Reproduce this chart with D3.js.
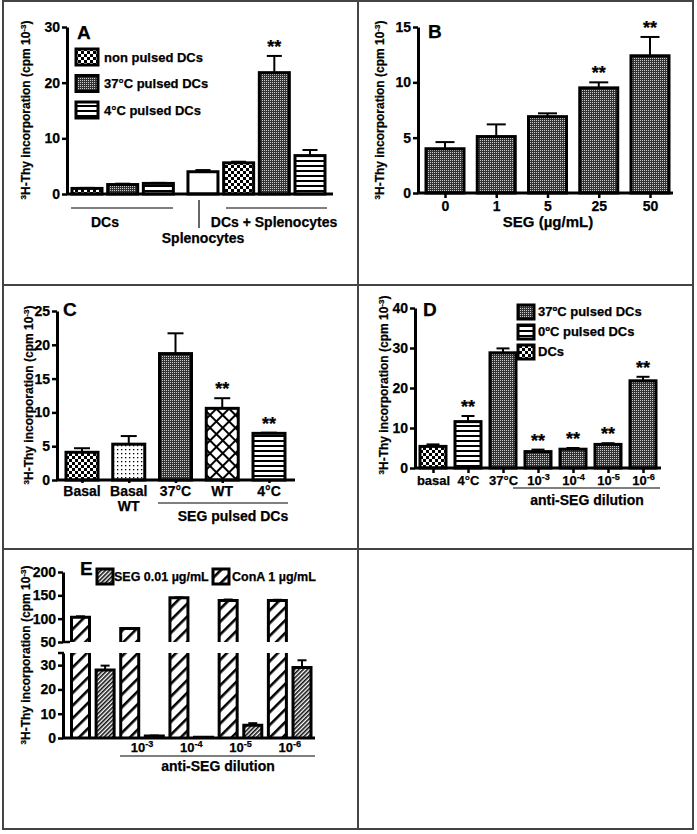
<!DOCTYPE html>
<html><head><meta charset="utf-8">
<script src="https://cdn.jsdelivr.net/npm/d3@7"></script>
<style>body{margin:0;background:#fff}svg{display:block;font-family:"Liberation Sans",Arial,sans-serif;font-weight:bold}
svg text{stroke:#000;stroke-width:0.25px}</style>
</head><body><svg id="c" width="697" height="834"></svg>
<script>
// ---------- DATA ----------
// Panel A
const aCategories = ["non pulsed DCs","37°C pulsed DCs","4°C pulsed DCs","Splenocytes","non pulsed DCs","37°C pulsed DCs","4°C pulsed DCs"];
const aValues = [1.0, 1.7, 1.9, 4.0, 5.6, 21.8, 6.9];
const aErrors = [0.1, 0.15, 0.1, 0.3, 0.2, 3.0, 1.0];
const aStars = ["","","","","","**",""];
const aPatterns = ["checker","stipple","hstripe","white","checker","stipple","hstripe"];
const aLegend = ["non pulsed DCs","37°C pulsed DCs","4°C pulsed DCs"];
const aTicks = [0,10,20,30];
// Panel B
const bCategories = ["0","1","5","25","50"];
const bValues = [4.0, 5.1, 6.9, 9.5, 12.4];
const bErrors = [0.6, 1.1, 0.3, 0.5, 1.7];
const bStars = ["","","","**","**"];
const bTicks = [0,5,10,15];
// Panel C
const cCategories = [["Basal"],["Basal","WT"],["37°C"],["WT"],["4°C"]];
const cValues = [4.1, 5.3, 18.7, 10.6, 6.9];
const cErrors = [0.6, 1.2, 3.0, 1.5, 0.1];
const cStars = ["","","","**","**"];
const cPatterns = ["checker","sparse","stipple","cross","hstripe"];
const cTicks = [0,5,10,15,20,25];
// Panel D
const dCategories = ["basal","4°C","37°C","10|-3","10|-4","10|-5","10|-6"];
const dValues = [5.4, 11.6, 28.8, 4.1, 4.7, 5.9, 21.8];
const dErrors = [0.5, 1.4, 1.1, 0.5, 0.3, 0.3, 1.0];
const dStars = ["","**","","**","**","**","**"];
const dPatterns = ["checker","hstripe","stipple","stipple","stipple","stipple","stipple"];
const dLegend = ["37ºC pulsed DCs","0ºC pulsed DCs","DCs"];
const dTicks = [0,10,20,30,40];
// Panel E
const eGroups = ["", "10|-3", "10|-4", "10|-5", "10|-6"];
const eConA = [103, 79, 145, 139, 139];
const eConAErr = [2, 1, 0.5, 2, 1.5];
const eSEG = [28, 0.8, 0.3, 5.3, 29];
const eSEGErr = [1.8, 0.2, 0.1, 0.8, 3.0];
const eLegend = ["SEG 0.01 µg/mL","ConA 1 µg/mL"];
const eTicksTop = [50,100,150,200];
const eTicksBottom = [0,10,20,30];

// ---------- SETUP ----------
const svg = d3.select("#c");
const defs = svg.append("defs");
function pat(id, w, h, rot, build){
  const p = defs.append("pattern").attr("id",id).attr("patternUnits","userSpaceOnUse").attr("width",w).attr("height",h);
  if(rot) p.attr("patternTransform",`rotate(${rot})`);
  build(p);
}
pat("checker",6,6,0,p=>{p.append("rect").attr("width",6).attr("height",6).attr("fill","#fff");
  p.append("rect").attr("width",3).attr("height",3).attr("fill","#000");
  p.append("rect").attr("x",3).attr("y",3).attr("width",3).attr("height",3).attr("fill","#000");});
pat("stipple",2,2,0,p=>{p.append("rect").attr("width",2).attr("height",2).attr("fill","#333");
  p.append("rect").attr("width",1).attr("height",1).attr("fill","#ccc");});
pat("hstripe",4,5,0,p=>{p.append("rect").attr("width",4).attr("height",5).attr("fill","#fff");
  p.append("rect").attr("width",4).attr("height",2).attr("fill","#000");});
pat("sparse",4,4,0,p=>{p.append("rect").attr("width",4).attr("height",4).attr("fill","#fff");
  p.append("rect").attr("x",1).attr("y",1).attr("width",1.3).attr("height",1.3).attr("fill","#000");});
pat("cross",9,9,45,p=>{p.append("rect").attr("width",9).attr("height",9).attr("fill","#fff");
  p.append("rect").attr("width",2).attr("height",9).attr("fill","#000");
  p.append("rect").attr("width",9).attr("height",2).attr("fill","#000");});
pat("densediag",3,3,45,p=>{p.append("rect").attr("width",3).attr("height",3).attr("fill","#fff");
  p.append("rect").attr("width",1.6).attr("height",3).attr("fill","#111");});
pat("diag",9,9,45,p=>{p.append("rect").attr("width",9).attr("height",9).attr("fill","#fff");
  p.append("rect").attr("width",2.6).attr("height",9).attr("fill","#000");});
const fillOf = p => p==="white" ? "#fff" : `url(#${p})`;

// panel borders
const border = svg.append("g").attr("stroke","#444").attr("stroke-width",2).attr("fill","none");
border.append("rect").attr("x",3).attr("y",1).attr("width",690).attr("height",828);
border.append("line").attr("x1",358).attr("x2",358).attr("y1",1).attr("y2",829);
border.append("line").attr("x1",3).attr("x2",693).attr("y1",285).attr("y2",285);
border.append("line").attr("x1",3).attr("x2",693).attr("y1",549).attr("y2",549);

// helpers
function supLabel(sel, s, size){
  const [base, sup] = s.split("|");
  sel.text(null);
  sel.append("tspan").text(base);
  if(sup!==undefined) sel.append("tspan").attr("dy",-5).attr("font-size",size*0.7).text(sup);
}
function yLabel(g, cx, cy){
  const t = g.append("text").attr("transform",`translate(${cx},${cy}) rotate(-90)`)
    .attr("text-anchor","middle").attr("font-size",12);
  t.append("tspan").attr("font-size",8).attr("dy",-4).text("3");
  t.append("tspan").attr("dy",4).text("H-Thy incorporation (cpm 10");
  t.append("tspan").attr("font-size",8).attr("dy",-4).text("-3");
  t.append("tspan").attr("dy",4).text(")");
}
function leftAxis(g, y, ticks, x0){
  const a = g.append("g").attr("transform",`translate(${x0},0)`)
    .call(d3.axisLeft(y).tickValues(ticks).tickSize(5).tickSizeOuter(0).tickPadding(2));
  a.select(".domain").attr("stroke","#000").attr("stroke-width",3);
  a.selectAll(".tick line").attr("stroke","#000").attr("stroke-width",2.5);
  a.selectAll(".tick text").attr("font-size",14).attr("font-weight","bold").attr("fill","#000")
    .attr("font-family",'"Liberation Sans",Arial,sans-serif');
  return a;
}
function baseLine(g, x1, x2, y0){
  g.append("line").attr("x1",x1).attr("x2",x2).attr("y1",y0).attr("y2",y0).attr("stroke","#000").attr("stroke-width",3);
}
function drawBars(g, vals, errs, stars, pats, xpos, y, w){
  vals.forEach((v,i)=>{
    const cx = xpos(i);
    g.append("rect").attr("x",cx-w/2).attr("y",y(v)).attr("width",w).attr("height",y(0)-y(v))
      .attr("fill",fillOf(pats[i])).attr("stroke","#000").attr("stroke-width",3);
    const top = y(v+errs[i]);
    g.append("line").attr("x1",cx).attr("x2",cx).attr("y1",y(v)).attr("y2",top).attr("stroke","#000").attr("stroke-width",2);
    g.append("line").attr("x1",cx-w/4).attr("x2",cx+w/4).attr("y1",top).attr("y2",top).attr("stroke","#000").attr("stroke-width",2);
    if(stars[i]) g.append("text").attr("x",cx).attr("y",top-3).attr("text-anchor","middle").attr("font-size",18).text(stars[i]);
  });
}
function legendBox(g, x, y, w, h, p){
  g.append("rect").attr("x",x).attr("y",y).attr("width",w).attr("height",h).attr("fill",fillOf(p)).attr("stroke","#000").attr("stroke-width",3);
}
function bottomTicks(g, xs, y0, labels, n, size){
  const a = g.append("g").attr("transform",`translate(0,${y0})`)
    .call(d3.axisBottom(xs).tickValues(d3.range(n)).tickSize(5).tickSizeOuter(0).tickPadding(3));
  a.select(".domain").remove();
  a.selectAll(".tick line").attr("stroke","#000").attr("stroke-width",2.5);
  a.selectAll(".tick text").attr("font-size",size).attr("font-weight","bold").attr("fill","#000")
    .attr("font-family",'"Liberation Sans",Arial,sans-serif')
    .each(function(i){ supLabel(d3.select(this), labels[i], size); });
  return a;
}

// ---------- PANEL A ----------
{
  const g = svg.append("g");
  const y = d3.scaleLinear().domain([0,30]).range([194,27]);
  const xs = d3.scaleLinear().domain([0,6.25]).range([87,310]);
  const xpos = i => xs(i + (i>=3 ? 0.25 : 0));
  drawBars(g, aValues, aErrors, aStars, aPatterns, xpos, y, 30);
  baseLine(g, 66, 333, y(0));
  leftAxis(g, y, aTicks, 67);
  yLabel(g, 30, 110);
  g.append("text").attr("x",77).attr("y",39).attr("font-size",19).text("A");
  aLegend.forEach((t,i)=>{
    const cy = 57 + i*26.5;
    legendBox(g, 76, cy-8, 22, 16, aPatterns[i]);
    g.append("text").attr("x",104).attr("y",cy+4.5).attr("font-size",13).text(t);
  });
  const ln = (x1,x2,y1,y2)=>g.append("line").attr("x1",x1).attr("x2",x2).attr("y1",y1).attr("y2",y2).attr("stroke","#000").attr("stroke-width",1.2);
  ln(71,173,208,208); ln(226,327,208,208); ln(199,199,200,228);
  g.append("text").attr("x",105).attr("y",227).attr("text-anchor","middle").attr("font-size",14).text("DCs");
  g.append("text").attr("x",203).attr("y",243).attr("text-anchor","middle").attr("font-size",14).text("Splenocytes");
  g.append("text").attr("x",274).attr("y",227).attr("text-anchor","middle").attr("font-size",14).text("DCs + Splenocytes");
}

// ---------- PANEL B ----------
{
  const g = svg.append("g");
  const y = d3.scaleLinear().domain([0,15]).range([193,27]);
  const xs = d3.scaleLinear().domain([0,4]).range([445,650]);
  drawBars(g, bValues, bErrors, bStars, bValues.map(()=>"stipple"), xs, y, 38);
  baseLine(g, 417, 673, y(0));
  bottomTicks(g, xs, y(0), bCategories, 5, 14);
  leftAxis(g, y, bTicks, 418);
  yLabel(g, 384, 110);
  g.append("text").attr("x",428).attr("y",38).attr("font-size",19).text("B");
  g.append("text").attr("x",548).attr("y",227).attr("text-anchor","middle").attr("font-size",15).text("SEG (µg/mL)");
}

// ---------- PANEL C ----------
{
  const g = svg.append("g");
  const y = d3.scaleLinear().domain([0,25]).range([480,311]);
  const xs = d3.scaleLinear().domain([0,4]).range([82,269]);
  drawBars(g, cValues, cErrors, cStars, cPatterns, xs, y, 32);
  baseLine(g, 56, 295, y(0));
  const a = g.append("g").attr("transform",`translate(0,${y(0)})`)
    .call(d3.axisBottom(xs).tickValues(d3.range(5)).tickSize(3).tickSizeOuter(0).tickFormat(""));
  a.select(".domain").remove();
  a.selectAll(".tick line").attr("stroke","#000").attr("stroke-width",2.5);
  cCategories.forEach((lines,i)=>{
    lines.forEach((t,k)=>g.append("text").attr("x",xs(i)).attr("y",496+k*15).attr("text-anchor","middle").attr("font-size",14).text(t));
  });
  leftAxis(g, y, cTicks, 57);
  yLabel(g, 33, 395);
  g.append("text").attr("x",63).attr("y",316).attr("font-size",19).text("C");
  g.append("line").attr("x1",158).attr("x2",288).attr("y1",503).attr("y2",503).attr("stroke","#000").attr("stroke-width",1.2);
  g.append("text").attr("x",233).attr("y",521).attr("text-anchor","middle").attr("font-size",14).text("SEG pulsed DCs");
}

// ---------- PANEL D ----------
{
  const g = svg.append("g");
  const y = d3.scaleLinear().domain([0,40]).range([468,308]);
  const xs = d3.scaleLinear().domain([0,6]).range([433,643]);
  drawBars(g, dValues, dErrors, dStars, dPatterns, xs, y, 26);
  baseLine(g, 414, 661, y(0));
  bottomTicks(g, xs, y(0), dCategories, 7, 13);
  leftAxis(g, y, dTicks, 415);
  yLabel(g, 388, 385);
  g.append("text").attr("x",423).attr("y",316).attr("font-size",19).text("D");
  const lp = ["stipple","hstripe","checker"];
  dLegend.forEach((t,i)=>{
    const cy = 312 + i*20;
    legendBox(g, 518, cy-7, 16, 14, lp[i]);
    g.append("text").attr("x",538).attr("y",cy+4).attr("font-size",13).text(t);
  });
  g.append("line").attr("x1",513).attr("x2",660).attr("y1",488).attr("y2",488).attr("stroke","#000").attr("stroke-width",1.2);
  g.append("text").attr("x",587).attr("y",505).attr("text-anchor","middle").attr("font-size",14).text("anti-SEG dilution");
}

// ---------- PANEL E ----------
{
  const g = svg.append("g");
  const yT = d3.scaleLinear().domain([50,200]).range([642,572]);
  const yB = d3.scaleLinear().domain([0,35]).range([738,653]);
  const xs = d3.scaleLinear().domain([0,9]).range([80.5,302]);
  const w = 18;
  const series = [];
  eConA.forEach((v,i)=>{ series.push({v, e:eConAErr[i], p:"diag", i:2*i}); series.push({v:eSEG[i], e:eSEGErr[i], p:"densediag", i:2*i+1}); });
  series.forEach(d=>{
    const x0 = xs(d.i)-w/2, cx = xs(d.i);
    const bTop = Math.min(d.v,35);
    g.append("rect").attr("x",x0).attr("y",yB(bTop)).attr("width",w).attr("height",yB(0)-yB(bTop)).attr("fill",fillOf(d.p));
    if(d.v<=35){
      g.append("path").attr("d",`M${x0},${yB(0)}V${yB(d.v)}H${x0+w}V${yB(0)}`).attr("fill","none").attr("stroke","#000").attr("stroke-width",3);
      const top = yB(d.v+d.e);
      g.append("line").attr("x1",cx).attr("x2",cx).attr("y1",yB(d.v)).attr("y2",top).attr("stroke","#000").attr("stroke-width",2);
      g.append("line").attr("x1",cx-w/4).attr("x2",cx+w/4).attr("y1",top).attr("y2",top).attr("stroke","#000").attr("stroke-width",2);
    } else {
      g.append("path").attr("d",`M${x0},${yB(0)}V${yB(35)}M${x0+w},${yB(35)}V${yB(0)}`).attr("fill","none").attr("stroke","#000").attr("stroke-width",3);
      g.append("rect").attr("x",x0).attr("y",yT(d.v)).attr("width",w).attr("height",yT(50)-yT(d.v)).attr("fill",fillOf(d.p));
      g.append("path").attr("d",`M${x0},${yT(50)}V${yT(d.v)}H${x0+w}V${yT(50)}`).attr("fill","none").attr("stroke","#000").attr("stroke-width",3);
      const top = yT(d.v+d.e);
      g.append("line").attr("x1",cx).attr("x2",cx).attr("y1",yT(d.v)).attr("y2",top).attr("stroke","#000").attr("stroke-width",2);
      g.append("line").attr("x1",cx-w/4).attr("x2",cx+w/4).attr("y1",top).attr("y2",top).attr("stroke","#000").attr("stroke-width",2);
    }
  });
  baseLine(g, 62, 315, yB(0));
  leftAxis(g, yT, eTicksTop, 63);
  leftAxis(g, yB, eTicksBottom, 63);
  g.append("line").attr("x1",63).attr("x2",70).attr("y1",yT(50)).attr("y2",yT(50)).attr("stroke","#000").attr("stroke-width",2.5);
  g.append("line").attr("x1",58).attr("x2",64).attr("y1",yB(35)).attr("y2",yB(35)).attr("stroke","#000").attr("stroke-width",2.5);
  yLabel(g, 30, 655);
  g.append("text").attr("x",80).attr("y",575).attr("font-size",19).text("E");
  legendBox(g, 97, 569, 16, 15, "densediag");
  g.append("text").attr("x",114).attr("y",581).attr("font-size",12.5).text(eLegend[0]);
  legendBox(g, 213, 569, 16, 15, "diag");
  g.append("text").attr("x",232).attr("y",581).attr("font-size",12.5).text(eLegend[1]);
  eGroups.forEach((t,k)=>{
    if(!t) return;
    const t0 = g.append("text").attr("x",(xs(2*k)+xs(2*k+1))/2).attr("y",752).attr("text-anchor","middle").attr("font-size",13);
    supLabel(t0, t, 13);
  });
  g.append("line").attr("x1",120).attr("x2",315).attr("y1",756).attr("y2",756).attr("stroke","#000").attr("stroke-width",1.2);
  g.append("text").attr("x",218).attr("y",771).attr("text-anchor","middle").attr("font-size",14).text("anti-SEG dilution");
}
</script></body></html>
